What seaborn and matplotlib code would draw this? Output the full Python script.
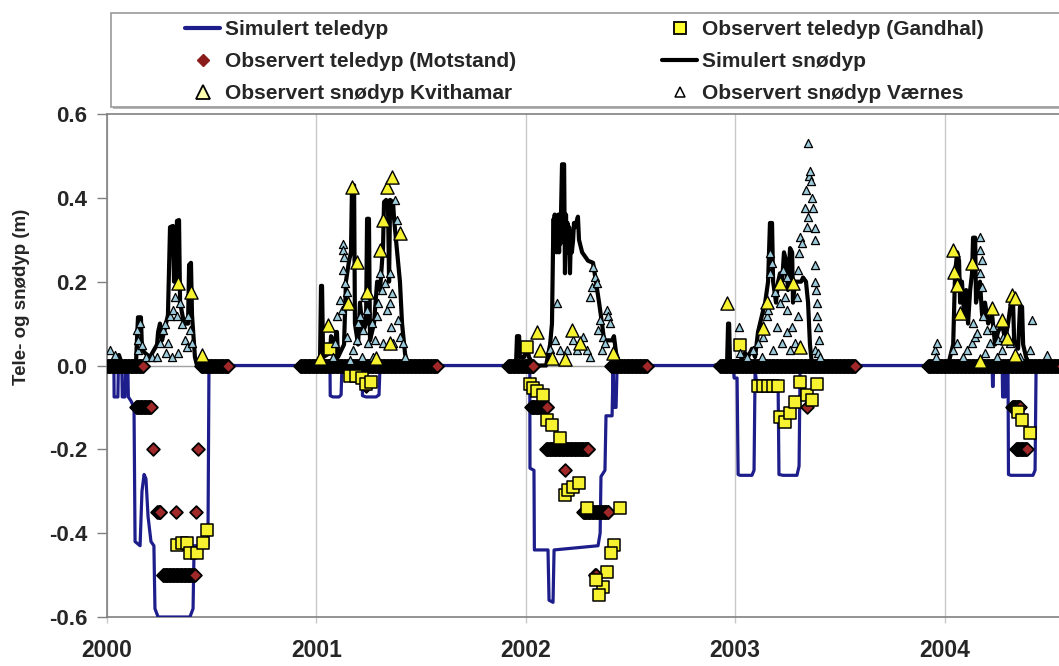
import numpy as np
import pandas as pd
import matplotlib
matplotlib.use("Agg")
import matplotlib.pyplot as plt
from matplotlib.lines import Line2D
from matplotlib.patches import Rectangle
import seaborn as sns

# ------------------------------------------------------------------ data
year_ticks = [2000, 2001, 2002, 2003, 2004]
year_labels = ["2000", "2001", "2002", "2003", "2004"]
depth_ticks = [-0.6, -0.4, -0.2, 0.0, 0.2, 0.4, 0.6]
depth_labels = ["-0.6", "-0.4", "-0.2", "0.0", "0.2", "0.4", "0.6"]

# Simulert teledyp (m, negative = frost depth)
sim_frost_t = [2000.000, 2000.033, 2000.034, 2000.052, 2000.054, 2000.071, 2000.073, 2000.086,
               2000.088, 2000.100, 2000.102, 2000.115, 2000.129, 2000.134, 2000.158, 2000.167,
               2000.177, 2000.186, 2000.196, 2000.210, 2000.224, 2000.229, 2000.244, 2000.396,
               2000.411, 2000.416, 2000.482, 2000.487,
               2001.065, 2001.066, 2001.079, 2001.108, 2001.118, 2001.122, 2001.218, 2001.220,
               2001.237, 2001.285, 2001.299, 2001.304,
               2002.019, 2002.020, 2002.039, 2002.041, 2002.106, 2002.111, 2002.130, 2002.135,
               2002.345, 2002.355, 2002.359, 2002.378, 2002.383, 2002.412, 2002.417, 2002.421,
               2002.431, 2002.436,
               2002.990, 2002.995, 2003.009, 2003.014, 2003.023, 2003.080, 2003.090, 2003.095,
               2003.104, 2003.205, 2003.209, 2003.229, 2003.295, 2003.305, 2003.310,
               2004.227, 2004.229, 2004.232, 2004.234, 2004.275, 2004.277, 2004.289, 2004.290,
               2004.303, 2004.305, 2004.317, 2004.422, 2004.432, 2004.437, 2004.560]
sim_frost_d = [0, 0, -0.075, -0.075, -0.01, -0.01, -0.075, -0.075,
               -0.02, -0.02, -0.075, -0.085, -0.10, -0.42, -0.43, -0.30,
               -0.26, -0.27, -0.36, -0.42, -0.43, -0.58, -0.60, -0.60,
               -0.58, -0.43, -0.43, 0,
               0, -0.072, -0.075, -0.075, -0.07, 0, 0, -0.072,
               -0.075, -0.075, -0.07, 0,
               0, -0.245, -0.25, -0.44, -0.44, -0.56, -0.565, -0.44,
               -0.43, -0.40, -0.265, -0.25, -0.12, -0.12, 0, -0.10,
               -0.10, 0,
               0, -0.03, -0.03, -0.26, -0.262, -0.262, -0.25, -0.01,
               -0.05, -0.05, -0.26, -0.262, -0.262, -0.24, 0,
               0, -0.05, -0.05, 0, 0, -0.075, -0.075, -0.02,
               -0.02, -0.26, -0.262, -0.262, -0.25, 0, 0]

# Simulert snødyp, one list pair per winter
snow_2000_t = [2000.000, 2000.053, 2000.057, 2000.067, 2000.081, 2000.138, 2000.143, 2000.148,
               2000.162, 2000.167, 2000.181, 2000.205, 2000.239, 2000.244, 2000.253, 2000.263,
               2000.291, 2000.301, 2000.315, 2000.320, 2000.330, 2000.334, 2000.344, 2000.349,
               2000.368, 2000.387, 2000.392, 2000.401, 2000.406, 2000.420, 2000.430]
snow_2000_d = [0, 0, 0.025, 0.01, 0, 0, 0.06, 0.115,
               0.115, 0.04, 0.03, 0.02, 0.05, 0.08, 0.10, 0.06,
               0.12, 0.33, 0.333, 0.20, 0.20, 0.345, 0.347, 0.15,
               0.10, 0.10, 0.24, 0.245, 0.12, 0.02, 0]
snow_2001_t = [2000.998, 2001.017, 2001.022, 2001.027, 2001.032, 2001.065, 2001.070, 2001.079,
               2001.089, 2001.094, 2001.098, 2001.103, 2001.132, 2001.141, 2001.156, 2001.165,
               2001.170, 2001.180, 2001.184, 2001.199, 2001.208, 2001.223, 2001.237, 2001.242,
               2001.251, 2001.256, 2001.275, 2001.290, 2001.304, 2001.318, 2001.323, 2001.333,
               2001.342, 2001.347, 2001.352, 2001.366, 2001.371, 2001.380, 2001.399, 2001.409,
               2001.423, 2001.433]
snow_2001_d = [0, 0, 0.19, 0.19, 0.02, 0.03, 0.07, 0.06,
               0.02, 0.08, 0.08, 0.02, 0.05, 0.20, 0.25, 0.27,
               0.43, 0.43, 0.10, 0.05, 0.15, 0.08, 0.10, 0.35,
               0.35, 0.06, 0.10, 0.20, 0.18, 0.28, 0.39, 0.395,
               0.38, 0.20, 0.395, 0.39, 0.35, 0.30, 0.20, 0.10,
               0.03, 0]
snow_2002_t = [2001.925, 2001.953, 2001.958, 2001.968, 2001.972, 2001.992, 2002.006, 2002.015,
               2002.039, 2002.097, 2002.116, 2002.125, 2002.130, 2002.133, 2002.135, 2002.138,
               2002.141, 2002.144, 2002.147, 2002.149, 2002.152, 2002.155, 2002.159, 2002.162,
               2002.165, 2002.168, 2002.173, 2002.183, 2002.187, 2002.192, 2002.196, 2002.199,
               2002.202, 2002.207, 2002.211, 2002.216, 2002.220, 2002.226, 2002.230, 2002.235,
               2002.249, 2002.254, 2002.269, 2002.283, 2002.297, 2002.321, 2002.335, 2002.350,
               2002.364, 2002.374, 2002.412, 2002.421, 2002.431, 2002.450]
snow_2002_d = [0, 0, 0.07, 0.07, 0.02, 0.02, 0.05, 0.02,
               0, 0, 0.05, 0.10, 0.28, 0.35, 0.29, 0.36, 0.28, 0.34, 0.27,
               0.355, 0.29, 0.36, 0.27, 0.35, 0.29, 0.36, 0.48, 0.48, 0.22,
               0.36, 0.27, 0.34, 0.28, 0.33, 0.22, 0.32, 0.27, 0.30, 0.34,
               0.33, 0.355, 0.30, 0.27, 0.26, 0.25, 0.245, 0.20, 0.15,
               0.10, 0.06, 0.06, 0.07, 0.03, 0]
snow_2003_t = [2002.904, 2002.961, 2002.966, 2002.971, 2002.975, 2003.023, 2003.047, 2003.061,
               2003.080, 2003.095, 2003.109, 2003.128, 2003.143, 2003.157, 2003.166, 2003.176,
               2003.181, 2003.195, 2003.205, 2003.214, 2003.224, 2003.233, 2003.243, 2003.252,
               2003.262, 2003.272, 2003.276, 2003.286, 2003.300, 2003.315, 2003.324, 2003.338,
               2003.348, 2003.357, 2003.367]
snow_2003_d = [0, 0, 0.10, 0.10, 0.01, 0.01, 0.03, 0.02,
               0.04, 0.02, 0.08, 0.12, 0.15, 0.20, 0.34, 0.34,
               0.20, 0.15, 0.20, 0.22, 0.20, 0.27, 0.25, 0.18,
               0.28, 0.27, 0.15, 0.20, 0.20, 0.20, 0.21, 0.20,
               0.15, 0.05, 0]
snow_2004_t = [2003.997, 2004.017, 2004.026, 2004.041, 2004.050, 2004.060, 2004.069, 2004.074,
               2004.083, 2004.093, 2004.103, 2004.112, 2004.122, 2004.131, 2004.136, 2004.146,
               2004.150, 2004.160, 2004.169, 2004.179, 2004.193, 2004.208, 2004.227, 2004.241,
               2004.255, 2004.275, 2004.289, 2004.303, 2004.317, 2004.327, 2004.332, 2004.351,
               2004.360, 2004.370, 2004.375, 2004.389, 2004.408]
snow_2004_d = [0, 0, 0.02, 0.05, 0.22, 0.27, 0.25, 0.15,
               0.20, 0.12, 0.18, 0.10, 0.18, 0.22, 0.305, 0.305,
               0.15, 0.18, 0.20, 0.12, 0.15, 0.10, 0.12, 0.05,
               0.08, 0.10, 0.06, 0.10, 0.15, 0.15, 0.06, 0.04,
               0.14, 0.14, 0.05, 0.02, 0]

# Observert teledyp (Motstand): daily readings, stored as runs of equal depth
motstand_start = [2000.000, 2000.449, 2000.922, 2001.915, 2002.407, 2002.927, 2003.921,
                  2000.139, 2000.221, 2000.436, 2000.241, 2000.330, 2000.425, 2000.267,
                  2001.237, 2002.025, 2002.097, 2002.187, 2002.273, 2002.330, 2003.342,
                  2004.322, 2004.341]
motstand_end = [2000.172, 2000.578, 2001.575, 2002.036, 2002.577, 2003.572, 2004.560,
                2000.209, 2000.221, 2000.436, 2000.253, 2000.330, 2000.425, 2000.420,
                2001.237, 2002.100, 2002.299, 2002.187, 2002.394, 2002.335, 2003.342,
                2004.360, 2004.393]
motstand_depth = [0, 0, 0, 0, 0, 0, 0,
                  -0.10, -0.20, -0.20, -0.35, -0.35, -0.35, -0.50,
                  -0.05, -0.10, -0.20, -0.25, -0.35, -0.50, -0.10,
                  -0.10, -0.20]

# Observert teledyp (Gandhal)
gandhal_t = [2000.336, 2000.357, 2000.384, 2000.396, 2000.428, 2000.460, 2000.479,
             2001.065, 2001.161, 2001.189, 2001.218, 2001.237, 2001.261,
             2002.006, 2002.020, 2002.036, 2002.052, 2002.084, 2002.100, 2002.124, 2002.164,
             2002.187, 2002.203, 2002.227, 2002.256, 2002.291, 2002.450, 2002.421, 2002.406,
             2002.387, 2002.370, 2002.351, 2002.335,
             2003.023, 2003.109, 2003.133, 2003.157, 2003.181, 2003.205, 2003.214, 2003.238,
             2003.262, 2003.286, 2003.310, 2003.342, 2003.366, 2003.389,
             2004.351, 2004.370, 2004.408]
gandhal_d = [-0.428, -0.424, -0.424, -0.448, -0.448, -0.424, -0.393,
             0.04, -0.025, -0.025, -0.03, -0.045, -0.04,
             0.045, -0.043, -0.054, -0.062, -0.07, -0.13, -0.142, -0.174,
             -0.309, -0.297, -0.289, -0.281, -0.341, -0.341, -0.428, -0.448,
             -0.492, -0.528, -0.548, -0.512,
             0.05, -0.05, -0.05, -0.05, -0.05, -0.05, -0.122, -0.134,
             -0.114, -0.088, -0.039, -0.07, -0.082, -0.043,
             -0.11, -0.13, -0.16]

# Observert snødyp Kvithamar
kvit_t = [2000.341, 2000.400, 2000.455,
          2001.017, 2001.057, 2001.152, 2001.169, 2001.193, 2001.243, 2001.285, 2001.304,
          2001.320, 2001.339, 2001.360, 2001.399, 2001.352,
          2002.052, 2002.068, 2002.124, 2002.187, 2002.219, 2002.259, 2002.418,
          2002.962, 2003.132, 2003.151, 2003.214, 2003.275, 2003.310,
          2004.042, 2004.043, 2004.058, 2004.074, 2004.130, 2004.225, 2004.273, 2004.297,
          2004.321, 2004.337, 2004.338, 2004.169]
kvit_d = [0.196, 0.176, 0.025,
          0.017, 0.097, 0.148, 0.427, 0.248, 0.176, 0.017, 0.276,
          0.347, 0.427, 0.45, 0.316, 0.054,
          0.081, 0.037, 0.017, 0.015, 0.084, 0.053, 0.03,
          0.148, 0.09, 0.152, 0.196, 0.196, 0.045,
          0.276, 0.224, 0.192, 0.125, 0.244, 0.137, 0.109, 0.065,
          0.168, 0.16, 0.025, 0.01]

# Observert snødyp Værnes
vaer_2000_t = [2000.014, 2000.038, 2000.142, 2000.146, 2000.150, 2000.158, 2000.167, 2000.186,
               2000.215, 2000.237, 2000.253, 2000.269, 2000.277, 2000.282, 2000.293, 2000.301,
               2000.310, 2000.317, 2000.325, 2000.336, 2000.339, 2000.349, 2000.357, 2000.372,
               2000.381, 2000.388, 2000.396, 2000.405]
vaer_2000_d = [0.037, 0.025, 0.085, 0.061, 0.037, 0.101, 0.05, 0.02,
               0.02, 0.02, 0.053, 0.085, 0.10, 0.03, 0.053, 0.117,
               0.02, 0.132, 0.164, 0.117, 0.03, 0.148, 0.10, 0.061,
               0.045, 0.117, 0.085, 0.053]
vaer_2001_t = [2001.081, 2001.089, 2001.097, 2001.113, 2001.121, 2001.126, 2001.127, 2001.129,
               2001.132, 2001.137, 2001.145, 2001.148, 2001.161, 2001.176, 2001.193, 2001.200,
               2001.208, 2001.216, 2001.224, 2001.232, 2001.240, 2001.248, 2001.264, 2001.272,
               2001.280, 2001.288, 2001.296, 2001.304, 2001.312, 2001.320, 2001.328, 2001.336,
               2001.350, 2001.352, 2001.354, 2001.360, 2001.367, 2001.375, 2001.384, 2001.391,
               2001.399, 2001.415, 2001.423]
vaer_2001_d = [0.02, 0.053, 0.117, 0.156, 0.132, 0.29, 0.228, 0.276,
               0.26, 0.196, 0.176, 0.069, 0.012, 0.037, 0.061, 0.101,
               0.117, 0.02, 0.085, 0.164, 0.132, 0.053, 0.101, 0.02,
               0.061, 0.117, 0.148, 0.22, 0.18, 0.053, 0.196, 0.132,
               0.148, 0.22, 0.093, 0.172, 0.053, 0.395, 0.347, 0.109,
               0.069, 0.053, 0.02]
vaer_2002_t = [2002.116, 2002.140, 2002.148, 2002.164, 2002.196, 2002.227, 2002.243, 2002.275,
               2002.291, 2002.305, 2002.307, 2002.315, 2002.323, 2002.331, 2002.339, 2002.346,
               2002.355, 2002.363, 2002.370, 2002.378, 2002.387, 2002.394, 2002.402, 2002.426]
vaer_2002_d = [0.04, 0.061, 0.15, 0.037, 0.037, 0.061, 0.037, 0.069,
               0.037, 0.164, 0.02, 0.188, 0.236, 0.212, 0.196, 0.085,
               0.109, 0.037, 0.069, 0.053, 0.132, 0.117, 0.101, 0.025]
vaer_2003_t = [2003.020, 2003.023, 2003.055, 2003.087, 2003.111, 2003.127, 2003.134, 2003.151,
               2003.158, 2003.166, 2003.168, 2003.175, 2003.182, 2003.190, 2003.198, 2003.214,
               2003.222, 2003.230, 2003.238, 2003.246, 2003.247, 2003.249, 2003.262, 2003.270,
               2003.286, 2003.294, 2003.301, 2003.302, 2003.306, 2003.310, 2003.318, 2003.334,
               2003.338, 2003.342, 2003.349, 2003.350, 2003.353, 2003.357, 2003.360, 2003.366,
               2003.373, 2003.380, 2003.381, 2003.381, 2003.382, 2003.383, 2003.386, 2003.389,
               2003.392, 2003.396, 2003.397, 2003.398, 2003.405]
vaer_2003_d = [0.093, 0.029, 0.02, 0.037, 0.053, 0.02, 0.069, 0.117,
               0.132, 0.268, 0.22, 0.244, 0.037, 0.176, 0.093, 0.148,
               0.053, 0.228, 0.164, 0.212, 0.132, 0.081, 0.037, 0.093,
               0.053, 0.164, 0.117, 0.228, 0.268, 0.307, 0.292, 0.375,
               0.419, 0.331, 0.530, 0.355, 0.451, 0.463, 0.439, 0.399,
               0.375, 0.037, 0.327, 0.20, 0.30, 0.24, 0.18, 0.15,
               0.117, 0.029, 0.093, 0.061, 0.02]
vaer_2004_t = [2003.955, 2003.959, 2003.966, 2004.042, 2004.058, 2004.090, 2004.106, 2004.130,
               2004.137, 2004.146, 2004.154, 2004.168, 2004.169, 2004.170, 2004.177, 2004.178,
               2004.185, 2004.193, 2004.201, 2004.217, 2004.233, 2004.249, 2004.257, 2004.273,
               2004.281, 2004.313, 2004.360, 2004.408, 2004.416, 2004.488]
vaer_2004_d = [0.037, 0.02, 0.053, 0.037, 0.053, 0.02, 0.037, 0.053,
               0.101, 0.069, 0.077, 0.307, 0.276, 0.22, 0.252, 0.188,
               0.117, 0.029, 0.085, 0.053, 0.093, 0.02, 0.061, 0.037,
               0.069, 0.053, 0.02, 0.037, 0.109, 0.025]

label_frost = "Simulert teledyp"
label_motstand = "Observert teledyp (Motstand)"
label_kvit = "Observert snødyp Kvithamar"
label_gandhal = "Observert teledyp (Gandhal)"
label_snow = "Simulert snødyp"
label_vaer = "Observert snødyp Værnes"
y_title = "Tele- og snødyp (m)"

# ------------------------------------------------------------------ frames
snow_df = pd.concat([
    pd.DataFrame({"t": t, "d": d, "winter": w})
    for t, d, w in [(snow_2000_t, snow_2000_d, 2000), (snow_2001_t, snow_2001_d, 2001),
                    (snow_2002_t, snow_2002_d, 2002), (snow_2003_t, snow_2003_d, 2003),
                    (snow_2004_t, snow_2004_d, 2004)]
], ignore_index=True)
frost_df = pd.DataFrame({"t": sim_frost_t, "d": sim_frost_d})

mot_rows = []
for s, e, d in zip(motstand_start, motstand_end, motstand_depth):
    days = np.append(np.arange(s, e, 1.0 / 365.25), e)
    mot_rows.append(pd.DataFrame({"t": days, "d": d}))
mot_df = pd.concat(mot_rows, ignore_index=True)

gand_df = pd.DataFrame({"t": gandhal_t, "d": gandhal_d})
kvit_df = pd.DataFrame({"t": kvit_t, "d": kvit_d})
vaer_df = pd.DataFrame({
    "t": vaer_2000_t + vaer_2001_t + vaer_2002_t + vaer_2003_t + vaer_2004_t,
    "d": vaer_2000_d + vaer_2001_d + vaer_2002_d + vaer_2003_d + vaer_2004_d,
})

# ------------------------------------------------------------------ style
sns.set_theme(style="white")
plt.rcParams["font.family"] = ["Liberation Sans", "DejaVu Sans"]
plt.rcParams["font.weight"] = "bold"
plt.rcParams["axes.unicode_minus"] = False

BLUE = "#1d1d8c"
MOT = "#a02828"
YEL = "#f6f230"
VAER = "#9ccbdc"

fig = plt.figure(figsize=(10.59, 6.66), dpi=100)
ax = fig.add_axes([107 / 1059, 1 - 617 / 666, 952 / 1059, 503 / 666])

ax.axhline(0, color="#a0a0a0", lw=1.0, zorder=1)

sns.lineplot(data=snow_df, x="t", y="d", units="winter", estimator=None, sort=False,
             color="black", lw=3.0, ax=ax, zorder=2, legend=False)
sns.lineplot(data=frost_df, x="t", y="d", estimator=None, sort=False,
             color=BLUE, lw=2.3, ax=ax, zorder=3, legend=False)
sns.scatterplot(data=mot_df, x="t", y="d", marker="D", s=42, color=MOT,
                edgecolor="black", linewidth=1.3, ax=ax, zorder=4, legend=False)
sns.scatterplot(data=gand_df, x="t", y="d", marker="s", s=82, color=YEL,
                edgecolor="black", linewidth=1.1, ax=ax, zorder=5, legend=False)
sns.scatterplot(data=vaer_df, x="t", y="d", marker="^", s=34, color=VAER,
                edgecolor="black", linewidth=0.9, ax=ax, zorder=6, legend=False)
sns.scatterplot(data=kvit_df, x="t", y="d", marker="^", s=90, color=YEL,
                edgecolor="black", linewidth=1.0, ax=ax, zorder=7, legend=False)

ax.set_xlim(2000, 2000 + 952 / 209.4)
ax.set_ylim(-0.6, 0.6)
ax.set_xticks(year_ticks)
ax.set_xticklabels(year_labels)
ax.set_yticks(depth_ticks)
ax.set_yticklabels(depth_labels)
ax.set_xlabel("")
ax.set_ylabel("")

ax.xaxis.grid(True, color="#c8c8c8", lw=1.0, zorder=0)
ax.yaxis.grid(False)
for side in ["left", "bottom", "top"]:
    ax.spines[side].set_color("#808080")
    ax.spines[side].set_linewidth(1.2)
ax.spines["right"].set_visible(False)

ax.tick_params(axis="y", direction="out", length=7, width=1, color="#808080",
               labelsize=16, pad=7, left=True)
ax.tick_params(axis="x", direction="out", length=4, width=1, color="#c8c8c8",
               labelsize=16.5, pad=12, bottom=True)
for lbl in ax.get_xticklabels() + ax.get_yticklabels():
    lbl.set_fontweight("bold")

fig.text(22 / 1059, 1 - 297 / 666, y_title, rotation=90, ha="center", va="center",
         fontsize=13.5, fontweight="bold")

# ------------------------------------------------------------------ legend
shadow = Rectangle((113 / 1059, 1 - 109 / 666), 1.0, 94 / 666, transform=fig.transFigure,
                   facecolor="#b8b8b8", edgecolor="none", zorder=0)
frame = Rectangle((111 / 1059, 1 - 107 / 666), 1.0, 94 / 666, transform=fig.transFigure,
                  facecolor="white", edgecolor="#9a9a9a", lw=1.2, zorder=1)
fig.patches.extend([shadow, frame])

h_frost = Line2D([], [], color=BLUE, lw=3)
h_mot = Line2D([], [], ls="", marker="D", ms=6, mfc="#8b1c1c", mec="#8b1c1c")
h_kvit = Line2D([], [], ls="", marker="^", ms=10, mfc="#ffffb0", mec="black", mew=1.3)
h_gand = Line2D([], [], ls="", marker="s", ms=9, mfc="#ffff30", mec="black", mew=1.3)
h_snow = Line2D([], [], color="black", lw=3)
h_vaer = Line2D([], [], ls="", marker="^", ms=6.5, mfc="white", mec="black", mew=1.1)

leg_kw = dict(loc="upper left", frameon=False, borderpad=0, borderaxespad=0,
              handlelength=1.7, handletextpad=0.2, labelspacing=0.62,
              prop={"weight": "bold", "size": 15})
leg1 = fig.legend([h_frost, h_mot, h_kvit], [label_frost, label_motstand, label_kvit],
                  bbox_to_anchor=(185 / 1059, 1 - 20 / 666), **leg_kw)
leg2 = fig.legend([h_gand, h_snow, h_vaer], [label_gandhal, label_snow, label_vaer],
                  bbox_to_anchor=(662 / 1059, 1 - 20 / 666), **leg_kw)
leg1.set_zorder(3)
leg2.set_zorder(3)

fig.savefig("out.png", dpi=100)
